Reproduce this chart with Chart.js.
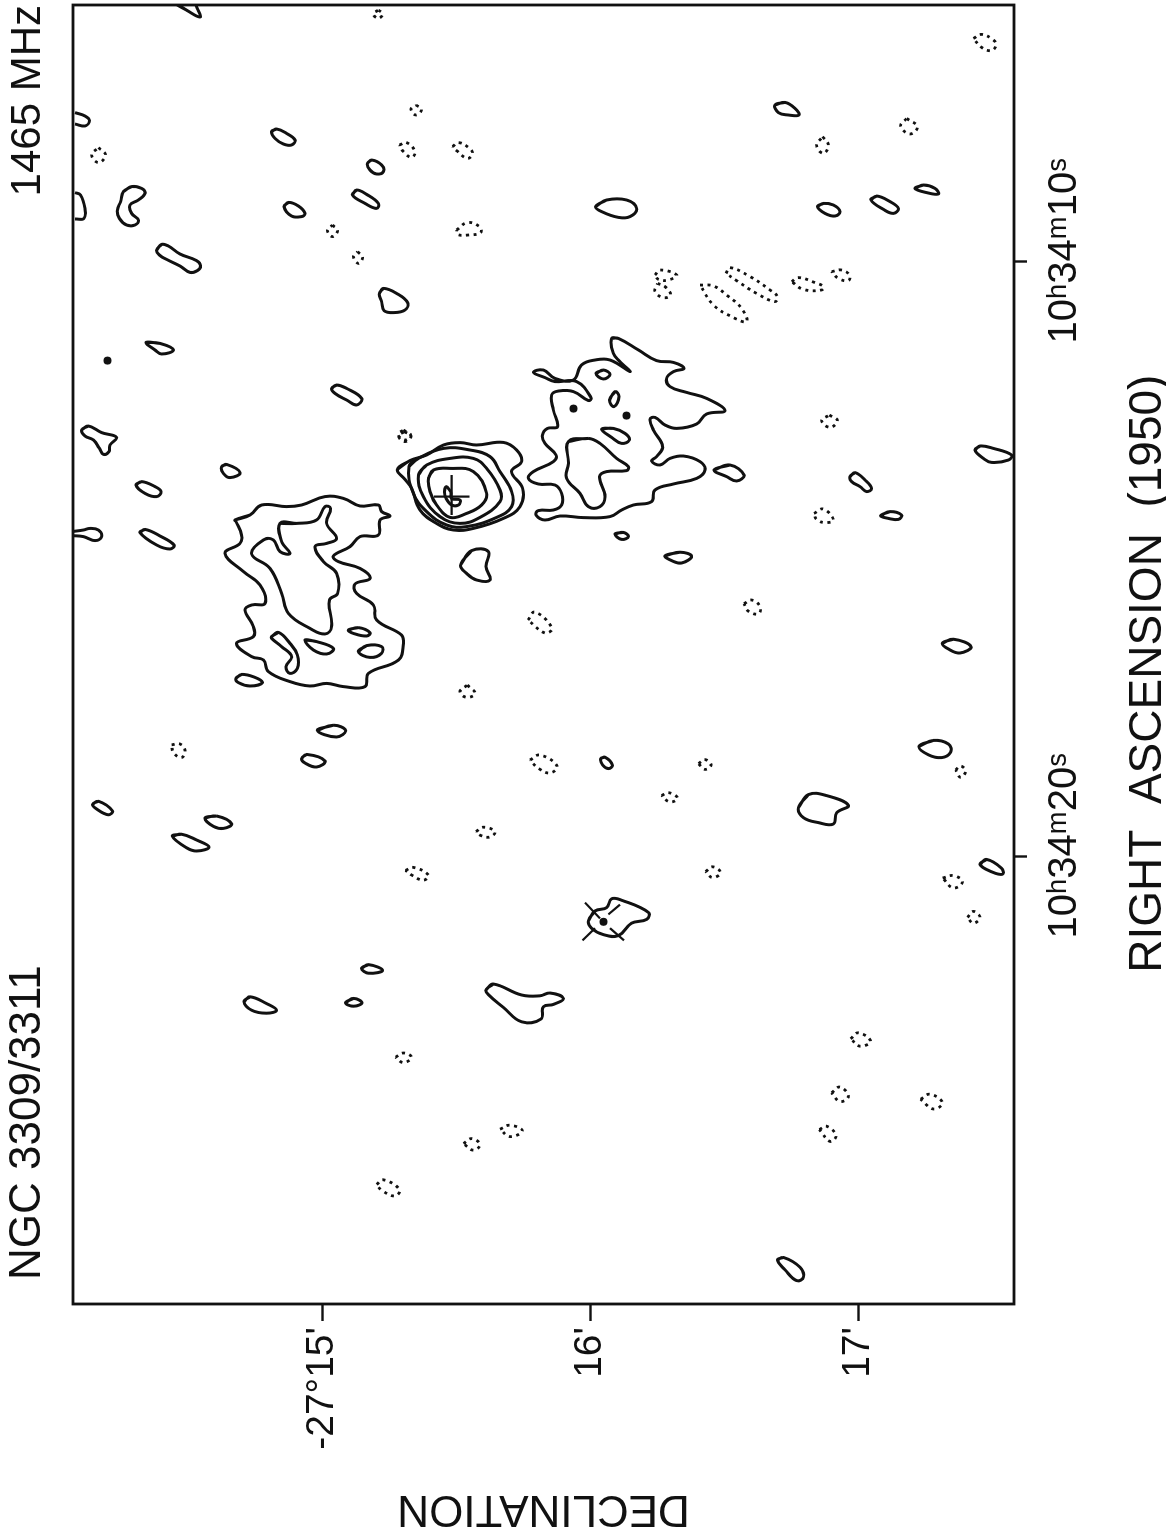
<!DOCTYPE html>
<html>
<head>
<meta charset="utf-8">
<title>NGC 3309/3311 1465 MHz</title>
<script src="https://cdn.jsdelivr.net/npm/chart.js@4"></script>
<style>
  html, body { margin: 0; background: #fff; width: 1166px; height: 1535px; overflow: hidden; }
  /* the plate is printed sideways: the chart is laid out upright, then turned */
  #plate { position: absolute; left: 0; top: 0; width: 1535px; height: 1166px;
           transform-origin: 0 0; transform: translateY(1535px) rotate(-90deg); }
</style>
</head>
<body>
<div id="plate"><canvas id="map" width="1535" height="1166"></canvas></div>
<script>
// Positions are map cells (about 0.45 arcsec), as [ra, dec]:
// ra counted from 10h34m20s, dec counted southwards from -27 deg 15'.
const raTicks = [0, -297.5];
const raLabels = ['\u00a0\u00a010ʰ34ᵐ20ˢ', '\u00a0\u00a010ʰ34ᵐ10ˢ'];
const decTicks = [0, 134, 268];
const decLabels = ['-27°15\'', '16\'', '17\''];
const raRange = [-426, 223.5];
const decRange = [-124.5, 346];

const nucleusContours = [
  [[-193.8,37.7],[-198.2,44],[-201,52.3],[-206,60.7],[-207.2,69],[-206,77.3],[-207.3,90.7],[-203.5,97.3],[-197.7,99.8],[-192.7,94.8],[-184.3,100.3],[-175.2,99],[-169.3,90.7],[-164.3,75.7],[-163.5,65.7],[-166.8,57.3],[-173.5,49],[-184.3,44.8],[-188.8,41.5]],
  [[-195.2,43.5],[-199.3,48.2],[-204.3,60.7],[-203.5,74],[-200.2,84],[-192.7,89],[-182.7,94.8],[-175.2,94.8],[-169.8,87.3],[-165.2,72.3],[-166,62.3],[-172.7,52.3],[-181.8,45.7]],
  [[-191,48.2],[-196,52.3],[-199.3,64],[-199.3,75.7],[-194.3,82.3],[-183.5,89],[-177.7,89],[-169.8,79],[-166.8,69],[-170.2,59],[-180.2,50.7]],
  [[-189.3,53.2],[-193.5,55.7],[-194.3,64],[-192.7,75.7],[-181.8,82.3],[-176,79.8],[-171.8,72.3],[-169.8,64],[-176,57.3],[-182.7,54]],
  [[-185.2,62.3],[-182.7,64.3],[-179.3,64.8],[-178.5,69],[-176,68.2],[-176,64.8],[-179.3,62],[-182.7,61.2]]
];

const northLobeContours = [
  [[-168.5,-43.5],[-171,-36],[-176,-30.2],[-175.2,-17.7],[-176,-10.2],[-180.2,1.5],[-179.3,10.7],[-175.5,19],[-176,28.2],[-172.7,29.8],[-170.5,34],[-168.5,29],[-161,28.2],[-160.2,19],[-155.2,14],[-150.5,5.7],[-147.7,8.2],[-144.3,19],[-139.3,24],[-136.5,16.5],[-131.8,17.3],[-126,25.7],[-118.5,27.3],[-111,39.8],[-106.8,40.7],[-98.5,38.2],[-91.8,23.2],[-85.2,21.5],[-85.2,10.7],[-86.8,2.3],[-85.5,-6],[-87.7,-16],[-92.7,-26.8],[-98.5,-29.3],[-100.2,-35.2],[-106.8,-42.7],[-110.2,-34.3],[-115.2,-34.3],[-123.5,-38.5],[-126,-35.2],[-126.8,-28.5],[-136,-31],[-142.7,-39.3],[-151.8,-48.5],[-156.8,-41],[-161,-40.2],[-167.7,-43]],
  [[-166.8,-21],[-166.8,-12.7],[-168.5,-2.7],[-175.2,1.5],[-174.3,4.3],[-166.8,2.3],[-159.3,7.3],[-156.8,2.3],[-155.2,-3.5],[-147.7,0.7],[-141.8,7.3],[-131.8,7.8],[-128.5,3.7],[-115.2,4.8],[-111.5,1.5],[-114.3,-6],[-121.8,-16.8],[-131.8,-20.2],[-144.3,-26],[-151.5,-35.2],[-158.5,-29.3],[-158.5,-24.3],[-152.7,-21],[-151.8,-16],[-157.7,-20.2]],
  [[-113.5,13.2],[-114.7,18.2],[-112.2,24],[-110.5,22.3],[-111.8,15.7]],
  [[-102.7,18.2],[-105.7,22.3],[-105.2,29.8],[-101.8,29.8],[-99.8,24]],
  [[-108.5,-8.5],[-107.7,-2.7],[-104.3,5.7],[-101.5,2.3],[-103.5,-4.3]],
  [[-110.2,-25.2],[-112.3,-21.8],[-106.8,-16],[-101,-12.3],[-94.3,-12.3],[-91.8,-16],[-95.2,-18],[-100.2,-15.2],[-105.2,-20.2],[-109.3,-25.2]]
];

const southLobeContours = [
  [[-259.3,144.8],[-259.3,148.2],[-253.5,158.2],[-248.2,167.3],[-247.3,175.7],[-244.3,181],[-242.7,175.7],[-239.3,172.3],[-235.2,174],[-232.3,182.3],[-229.3,192.3],[-223.2,201.5],[-221.5,192.3],[-216.5,187.3],[-214.3,177.3],[-216,171.5],[-219.8,166.5],[-218.8,164],[-213.5,165.7],[-205.2,170.3],[-200.2,167.3],[-198,164.8],[-196,169],[-199.3,174],[-200.5,180.7],[-197.7,189],[-193.5,191.5],[-189.3,187.3],[-186.5,175.7],[-183.5,166.5],[-177.7,164.8],[-176,155.7],[-173.5,149.8],[-170.2,144],[-169.7,130.7],[-170.5,119],[-168.5,111.5],[-171,107],[-173.2,108.2],[-173.5,115.7],[-176,119.8],[-181.8,119.8],[-186,116.5],[-186.5,108.2],[-189.3,103.2],[-192.7,105.7],[-197.7,115.7],[-201,117],[-206.8,111.5],[-211,110.2],[-214.3,112.7],[-215.2,117.8],[-223.5,115.7],[-231,114.8],[-233,118.2],[-232.7,125.7],[-228.2,133.2],[-229.7,134.5],[-237.7,127.3],[-237.7,116.5],[-239.7,111.5],[-242.3,105.7],[-243.5,110.7],[-239.3,116.5],[-238.5,125.7],[-246,129.8],[-248.5,136.5],[-248.5,144],[-242.7,154],[-247.7,149],[-251.8,145.7]],
  [[-207.7,123.2],[-209.3,133.2],[-206.8,139],[-199.3,147.3],[-195.2,153.2],[-193.2,152.3],[-192.7,142.3],[-190.2,138.7],[-180.2,141.5],[-175.2,139],[-175.2,133.2],[-181.8,129],[-189.3,122.3],[-196.8,123.2]],
  [[-241.8,137],[-243.5,140.7],[-241.3,144],[-239,140.7]],
  [[-228.5,143.7],[-232.7,146.5],[-230.2,148.5],[-225.2,146]],
  [[-214,139.8],[-214.3,145.7],[-211.8,151.5],[-208.5,153.7],[-206.8,149.8],[-209.8,144.8]],
  [[-161.5,146.5],[-162.3,150.7],[-160.2,153.2],[-158.8,149.8]],
  [[-193.5,196],[-196,204],[-191,211],[-188,207.3],[-190.2,202.3]]
];

const companionContour = [[31.9,133.2],[27,136.5],[25.3,142.3],[20.9,144.8],[21.6,149.8],[27.7,163.2],[31.2,162.3],[33.1,154.8],[39.3,148.2],[38.8,140.7],[35.6,134.8]];

const blobContours = [
  [[-427,-73],[-423,-67],[-420,-61],[-423.5,-62],[-428,-65]],
  [[-332.7,-99.3],[-335.2,-95.2],[-334.3,-90.2],[-331.8,-88.5],[-328.5,-91.8],[-326,-96],[-321.8,-95.2],[-318.5,-91.8],[-316,-93.5],[-316,-97.7],[-319.3,-101.3],[-323.5,-102.3],[-327.7,-100.7]],
  [[-303.5,-82.7],[-306.3,-80.2],[-305.5,-76.8],[-301.5,-71],[-298.2,-62.7],[-295.7,-60.7],[-293.2,-62.3],[-292.3,-66],[-295.5,-71],[-298.8,-77.7],[-301,-81.3]],
  [[-257.3,-88],[-256.8,-81],[-253.5,-74.3],[-251.5,-80.2],[-253.5,-83.5]],
  [[-234.3,4.8],[-236,7.3],[-234.3,12.3],[-229.3,19.8],[-226,17.3],[-228.5,12.3],[-231.8,6.5]],
  [[-213.5,-120.2],[-215.5,-116.8],[-212.2,-110.2],[-209.8,-102.7],[-206,-106],[-202.7,-106.5],[-201.3,-109.3],[-204.3,-111.3],[-208.5,-114.3],[-210.5,-118.5]],
  [[-186,-93],[-187.7,-90.2],[-185.2,-83.5],[-182.7,-80.5],[-180.2,-82.7],[-181.8,-88.5]],
  [[-162.2,-91],[-163.8,-88.5],[-160.5,-81],[-156,-74],[-154,-76],[-156,-82.7]],
  [[-362.7,-25.2],[-364,-22.7],[-361.8,-17.7],[-358.5,-13.5],[-356,-15.2],[-356.5,-19.3],[-359.3,-23.5]],
  [[-346.8,22.7],[-348.5,24.8],[-346,29.8],[-342.7,30.7],[-341.5,27.3],[-343.5,24]],
  [[-331,15.2],[-333.5,17.3],[-331.3,22.3],[-326.8,28.2],[-324.3,27.3],[-326.8,21.5]],
  [[-325.2,-19],[-327.3,-16.8],[-325.5,-11.8],[-321.8,-8.5],[-320.2,-10.2],[-320.5,-15.2]],
  [[-281.8,28.7],[-284.3,30.7],[-281.8,37.3],[-277.2,42.8],[-273.5,41.5],[-272.2,35.7],[-273.2,31],[-277.7,29.8]],
  [[-376,226.5],[-377.3,231.5],[-374.3,236.5],[-371,238.5],[-371,233.2],[-372.2,228.2]],
  [[-325.2,136.8],[-328.5,142.3],[-328.5,152.3],[-324.3,157.3],[-320.2,154],[-319.8,148.2],[-322.7,139.8]],
  [[-325.2,247.7],[-326.8,250.7],[-326,255.7],[-322.7,259],[-320.5,256.5],[-321.8,251.5]],
  [[-328.5,274.5],[-330.5,277.3],[-327.7,284],[-324.3,288.2],[-321.8,285.7],[-323.8,280.7]],
  [[-334.3,296.5],[-336,300.7],[-334.3,306.5],[-331.5,308.2],[-332.2,302.3]],
  [[-195.2,-50.2],[-196.3,-47.7],[-192.2,-41],[-189.7,-46],[-191.8,-49.3]],
  [[-146,69.3],[-153.2,74.8],[-152.7,83.2],[-145.2,82],[-138.5,84],[-138.5,77.3],[-141.8,72.3]],
  [[-89.3,-43],[-91.3,-40.2],[-89.8,-33.5],[-87.2,-29.8],[-85.5,-36],[-87.2,-41.8]],
  [[-63.3,-2.3],[-65.9,5.7],[-63.3,11.8],[-60,7.3]],
  [[-49.3,-10.2],[-51.3,-7.7],[-48,1.5],[-45,-2.7],[-47,-8.5]],
  [[-26.4,-114.7],[-27.9,-111.8],[-23.1,-104.8],[-21.1,-106.8],[-24,-112.7]],
  [[-19.5,-58.5],[-20.5,-52.7],[-16.6,-45.2],[-14.3,-49.3],[-15.3,-54.3]],
  [[-10.4,-74.8],[-11.4,-70.2],[-8.5,-62.7],[-5,-56.5],[-3,-62.7],[-4.6,-67.7]],
  [[55.7,19.8],[53.8,23.2],[56.7,30.3],[58.1,23.2]],
  [[72.9,11.8],[70.7,15.7],[72.9,20],[74.6,15.7]],
  [[72.3,-39],[69.9,-36],[73.3,-27.7],[76.6,-22.7],[78.1,-27.7],[76.6,-35.2]],
  [[66.4,82],[63.5,85.7],[69,99.8],[69.4,109],[68,114],[70.7,120.7],[73.7,115.7],[74.9,110.7],[81,109.5],[82.4,99.8],[75.2,90.7],[68.8,83.2]],
  [[-150.6,171.5],[-152.4,179],[-150.4,184.8],[-147,179.8],[-148.2,174.8]],
  [[-106.9,310.2],[-108.9,315.7],[-105.2,324.5],[-102,319],[-104,313.2]],
  [[-55.3,298.5],[-58.3,305.7],[-56.5,313.2],[-52.4,314.3],[-49.7,309.8],[-51.1,303.2]],
  [[-49.2,139.3],[-49.9,141.5],[-46,145.2],[-44.2,143.2],[-46,140.3]],
  [[-24.6,238.2],[-31.2,243.2],[-30.7,252.3],[-25.8,263.2],[-22.1,257.3],[-16.5,255.7],[-17.2,248.2],[-19.7,240.7]],
  [[3.7,329],[1.2,332.3],[5.6,339.8],[8.6,340.3],[7.4,334.8]],
  [[201.5,227.7],[200.2,230.7],[205.1,239],[210.1,240.7],[211.8,237.3],[206.4,231.5]],
  [[-203.5,326.5],[-205.5,329],[-204.3,335.7],[-201,344.8],[-198.5,343.2],[-197.3,334.8],[-199.3,330.7]],
  [[-190.2,264],[-192.2,266.5],[-188.5,271.5],[-184.3,274.8],[-182.7,272.3],[-185.2,269],[-187.7,264.8]],
  [[-170.7,279.3],[-172.7,284],[-171,289.8],[-168.8,288.2],[-169.3,283.2]]
];

// these run into the left edge of the frame, so they stay open
const edgeContours = [
  [[-372.2,-123.5],[-370.5,-118.5],[-368.2,-116.3],[-365.5,-118.5],[-366.5,-123.5]],
  [[-332.2,-123.5],[-331,-120.7],[-324.3,-118.5],[-319.3,-119],[-319,-123.5]],
  [[-162.7,-125.2],[-163.5,-119.3],[-164.3,-116],[-163.5,-111.8],[-160.2,-110.2],[-158.2,-113.5],[-160.2,-119.3],[-160.7,-125.2]]
];

const dashedContours = [
  [[-423.5,28.2],[-421.5,30.3],[-419.3,28.2],[-421.5,25.7]],
  [[-376,47],[-373.8,49.8],[-371,47],[-373.8,44.5]],
  [[-354.7,-111.8],[-351,-108.2],[-347.2,-111.8],[-351,-115.2]],
  [[-356,38.7],[-357.2,42.3],[-352.7,46.5],[-349.8,44.8],[-352.7,40.7]],
  [[-355.2,65.3],[-357.2,68.2],[-354.8,73.2],[-351.8,75.3],[-349.3,72.7],[-353.2,67.3]],
  [[-313.5,67.3],[-317.2,72.7],[-315.2,78.7],[-312.2,79.3],[-311,73.2],[-311.3,67.7]],
  [[-316,5.2],[-313.2,7.8],[-310.2,5.2],[-313.2,2.7]],
  [[-302.7,17.8],[-299.8,20.3],[-296.8,18.2],[-300.2,15.7]],
  [[-213.5,40.7],[-211,44.3],[-208.5,41.5],[-211.3,38]],
  [[-409.3,325.7],[-411.3,329.8],[-408.5,335.7],[-406,337],[-403.2,334.8],[-404.8,329.8]],
  [[-369.3,292.3],[-365.2,297.7],[-361.5,294],[-365.5,289.3]],
  [[-360.2,250.3],[-356,253.2],[-351.8,250.7],[-355.7,247.3]],
  [[-291,166.5],[-293.5,169],[-291,177.3],[-288.5,173.2],[-288.8,168.2]],
  [[-286.8,167.7],[-285.2,171.5],[-281,174.3],[-279.7,170.7],[-282.7,166.5]],
  [[-286,189],[-285.5,195.7],[-281,202.3],[-274.3,209.8],[-267.7,212.3],[-270.2,204.8],[-276,195.7]],
  [[-291.8,202],[-294.7,204],[-290.2,214],[-283.5,224],[-280.2,227.7],[-277.7,226.5],[-281.8,217.3],[-288.2,207.3]],
  [[-287.7,234.8],[-289.7,238.2],[-287.2,246.5],[-285.2,250.7],[-283.5,249.8],[-283.8,240.7]],
  [[-292.7,254.8],[-293.5,259.8],[-291,263.7],[-288.2,263.2],[-289.3,258.2]],
  [[-221,253.7],[-218.2,257.7],[-214.8,254],[-218.2,249.8]],
  [[-212.7,41.2],[-210.5,44.5],[-207.7,41.5],[-210.5,38.2]],
  [[-86,72.7],[-81.8,76.5],[-79.8,72.3],[-82.7,69]],
  [[-118.5,103],[-122.5,106.5],[-114.5,115],[-112,111.5]],
  [[-56.1,-75.2],[-56.5,-71],[-53.2,-68.5],[-49.7,-70.2],[-52.2,-74.3]],
  [[-48.5,104],[-51,109],[-45.5,117.5],[-42,114],[-44.5,108]],
  [[-12.7,77],[-14.9,80.7],[-12.7,86.5],[-10,84],[-10.8,79.3]],
  [[6.7,41.8],[5.2,45.7],[9,53.2],[11.6,50.7],[9,44.8]],
  [[100.1,36.8],[98,40.7],[100.1,44.8],[102.8,40.7]],
  [[136.1,89],[134.1,94],[136.9,100.2],[139.8,94]],
  [[143.3,70.7],[140.8,74.8],[143.7,79],[146.6,75.7]],
  [[163.7,27.3],[161.4,30.7],[166.2,38.7],[169.5,36.5],[166.6,29.8]],
  [[-126.6,211],[-128.5,214.8],[-125.3,219],[-121.6,218.2],[-122.9,213.2]],
  [[-46.7,188.2],[-48.7,191.5],[-46,194.5],[-43.8,191.5]],
  [[-30.7,169.8],[-32.2,173.2],[-29.5,177.8],[-27.5,174]],
  [[7.3,191.8],[4.9,195.3],[7.8,199.3],[10.3,195.3]],
  [[-43.5,316.8],[-45.5,319.3],[-43,321.8],[-39.8,319.3]],
  [[10.5,310.3],[9.3,315.7],[12.3,320.3],[15.5,315.7]],
  [[30.2,322.7],[27.2,325.7],[30.2,329],[33.1,325.7]],
  [[90.9,264.3],[87.9,268.2],[92.1,274.3],[94.6,269]],
  [[117.9,254.8],[115,259],[119.6,263.2],[122.3,259]],
  [[121.1,299.3],[118.6,304],[122.8,310.2],[126,305.7]],
  [[136.3,248.7],[134.6,252.3],[139.3,257],[142.2,254]],
  [[-171.8,246],[-174,250.7],[-168.5,255.7],[-167.2,251.5],[-168.8,247.3]]
];

// optical position crosses over the two galaxies
const crossMarks = [
  [[-191,64.8],[-171,64.8]],
  [[-180.2,56],[-180.2,73.7]],
  [[22.8,131.5],[30.7,139]],
  [[41.7,130.3],[35.6,136.5]],
  [[28.7,143.2],[23.8,149]],
  [[35.6,144],[41.7,151]]
];
const filledSpots = [[-248.2,-107.3],[-224.2,125.7],[-220.7,152.3],[32.4,140.7]];

const ink = '#111';
const plateFont = '"Liberation Sans", sans-serif';

const toPoints = list => list.map(p => ({ x: p[0], y: p[1] }));

function lineSet(list, extra) {
  return Object.assign({
    data: toPoints(list),
    showLine: true,
    pointRadius: 0,
    borderColor: ink,
    borderWidth: 3,
    tension: 0.42
  }, extra);
}

const datasets = [];
// solid loops run one step past their start so the join is smoothed like the rest
[...nucleusContours, ...northLobeContours, ...southLobeContours, companionContour, ...blobContours]
  .forEach(c => datasets.push(lineSet([...c, c[0], c[1]])));
edgeContours.forEach(c => datasets.push(lineSet(c)));
// dotted loops close exactly once, a second pass would fill in the gaps
dashedContours.forEach(c => datasets.push(lineSet([...c, c[0]], { borderWidth: 2.8, borderDash: [3, 4.5] })));
crossMarks.forEach(c => datasets.push(lineSet(c, { borderWidth: 2.2, tension: 0 })));
datasets.push({
  data: toPoints(filledSpots),
  showLine: false,
  pointRadius: 4,
  pointBackgroundColor: ink,
  pointBorderWidth: 0
});

// frame and the two headings along the top of the upright chart
const platePlugin = {
  id: 'plate',
  afterDraw(chart) {
    const { ctx, chartArea: a } = chart;
    ctx.save();
    ctx.strokeStyle = ink;
    ctx.lineWidth = 2.8;
    ctx.strokeRect(a.left, a.top, a.right - a.left, a.bottom - a.top);
    ctx.fillStyle = ink;
    ctx.textBaseline = 'middle';
    ctx.textAlign = 'left';
    ctx.font = '44px ' + plateFont;
    ctx.fillText('NGC 3309/3311', 255, 28);
    ctx.textAlign = 'right';
    ctx.font = '42px ' + plateFont;
    ctx.fillText('1465 MHz', 1530, 28);
    ctx.restore();
  }
};

new Chart(document.getElementById('map').getContext('2d'), {
  type: 'scatter',
  data: { datasets },
  plugins: [platePlugin],
  options: {
    responsive: false,
    animation: false,
    devicePixelRatio: 1,
    layout: { padding: { left: 0, top: 73, right: 5, bottom: 0 } },
    plugins: { legend: { display: false }, tooltip: { enabled: false } },
    scales: {
      x: {
        type: 'linear',
        reverse: true,
        min: raRange[0],
        max: raRange[1],
        afterBuildTicks: s => { s.ticks = raTicks.map(v => ({ value: v })); },
        afterFit: s => { s.height = 152; },
        border: { display: false },
        grid: { drawOnChartArea: false, tickLength: 13, tickWidth: 2.4, tickColor: ink },
        ticks: {
          color: ink,
          autoSkip: false,
          maxRotation: 0,
          padding: 14,
          font: { family: plateFont, size: 40 },
          callback: v => raLabels[raTicks.indexOf(v)]
        },
        title: {
          display: true,
          text: 'RIGHT  ASCENSION  (1950)   ',
          color: ink,
          padding: { top: 0, bottom: -10 },
          font: { family: plateFont, size: 46 }
        }
      },
      y: {
        type: 'linear',
        reverse: true,
        min: decRange[0],
        max: decRange[1],
        afterBuildTicks: s => { s.ticks = decTicks.map(v => ({ value: v })); },
        afterFit: s => { s.width = 231; },
        border: { display: false },
        grid: { drawOnChartArea: false, tickLength: 17, tickWidth: 2.4, tickColor: ink },
        ticks: {
          color: ink,
          autoSkip: false,
          padding: 6,
          font: { family: plateFont, size: 39 },
          callback: v => decLabels[decTicks.indexOf(v)]
        },
        title: {
          display: true,
          text: 'DECLINATION',
          color: ink,
          padding: 0,
          font: { family: plateFont, size: 44 }
        }
      }
    }
  }
});
</script>
</body>
</html>
